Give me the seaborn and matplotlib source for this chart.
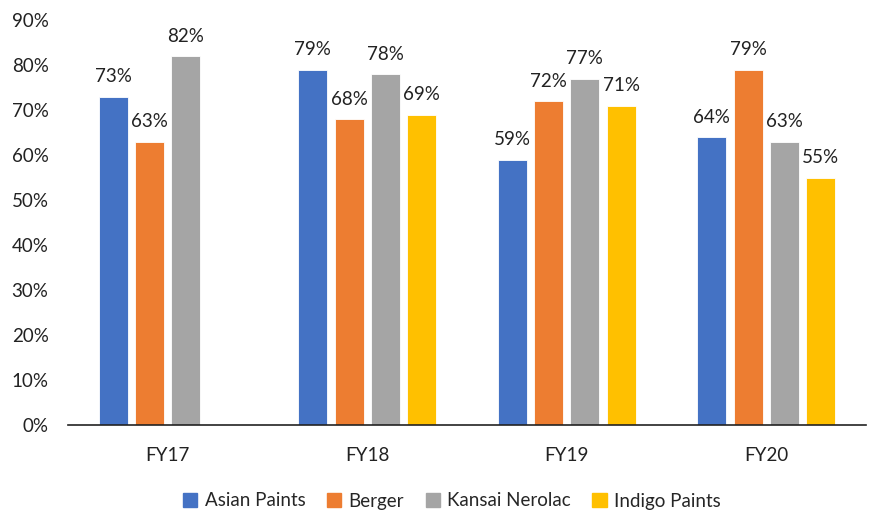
import pandas as pd
import seaborn as sns
import matplotlib.pyplot as plt
from matplotlib.ticker import PercentFormatter

years = ["FY17", "FY18", "FY19", "FY20"]
companies = ["Asian Paints", "Berger", "Kansai Nerolac", "Indigo Paints"]
asian = [73, 79, 59, 64]
berger = [63, 68, 72, 79]
kansai = [82, 78, 77, 63]
indigo = [None, 69, 71, 55]
colors = ["#4472C4", "#ED7D31", "#A5A5A5", "#FFC000"]

rows = []
for comp, vals in zip(companies, [asian, berger, kansai, indigo]):
    for yr, v in zip(years, vals):
        rows.append({"Year": yr, "Company": comp, "Value": v})
df = pd.DataFrame(rows)

sns.set_style("white")
plt.rcParams["font.family"] = ["Lato", "DejaVu Sans"]

fig = plt.figure(figsize=(8.72, 5.13), dpi=100)
ax = fig.add_axes([68 / 872, 1 - 425 / 513, (866 - 68) / 872, (425 - 20) / 513])

sns.barplot(data=df, x="Year", y="Value", hue="Company", hue_order=companies,
            palette=colors, saturation=1, width=0.727, gap=0.2, ax=ax, legend=False,
            edgecolor="white", linewidth=0.6)

fs = 13.5
for container in ax.containers:
    labels = [f"{v:.0f}%" if v == v and v is not None else "" for v in container.datavalues]
    ax.bar_label(container, labels=labels, padding=8, fontsize=fs, color="#222222")

ax.set_ylim(0, 90)
ax.set_xlim(-0.5, 3.5)
ax.set_yticks(range(0, 91, 10))
ax.yaxis.set_major_formatter(PercentFormatter(decimals=0))
ax.set_xlabel("")
ax.set_ylabel("")
ax.tick_params(axis="both", length=0, labelsize=fs, colors="#222222")
ax.tick_params(axis="x", pad=16)
ax.tick_params(axis="y", pad=14)
for side in ["top", "right", "left"]:
    ax.spines[side].set_visible(False)
ax.spines["bottom"].set_color("#222222")
ax.spines["bottom"].set_linewidth(1.2)

handles = [plt.Rectangle((0, 0), 1, 1, color=c) for c in colors]
fig.legend(handles, companies, loc="center", bbox_to_anchor=(452 / 872, 1 - 501 / 513),
           ncol=4, frameon=False, fontsize=fs, handlelength=0.75, handleheight=0.75,
           handletextpad=0.4, columnspacing=1.15)

fig.savefig("out.png", dpi=100)
